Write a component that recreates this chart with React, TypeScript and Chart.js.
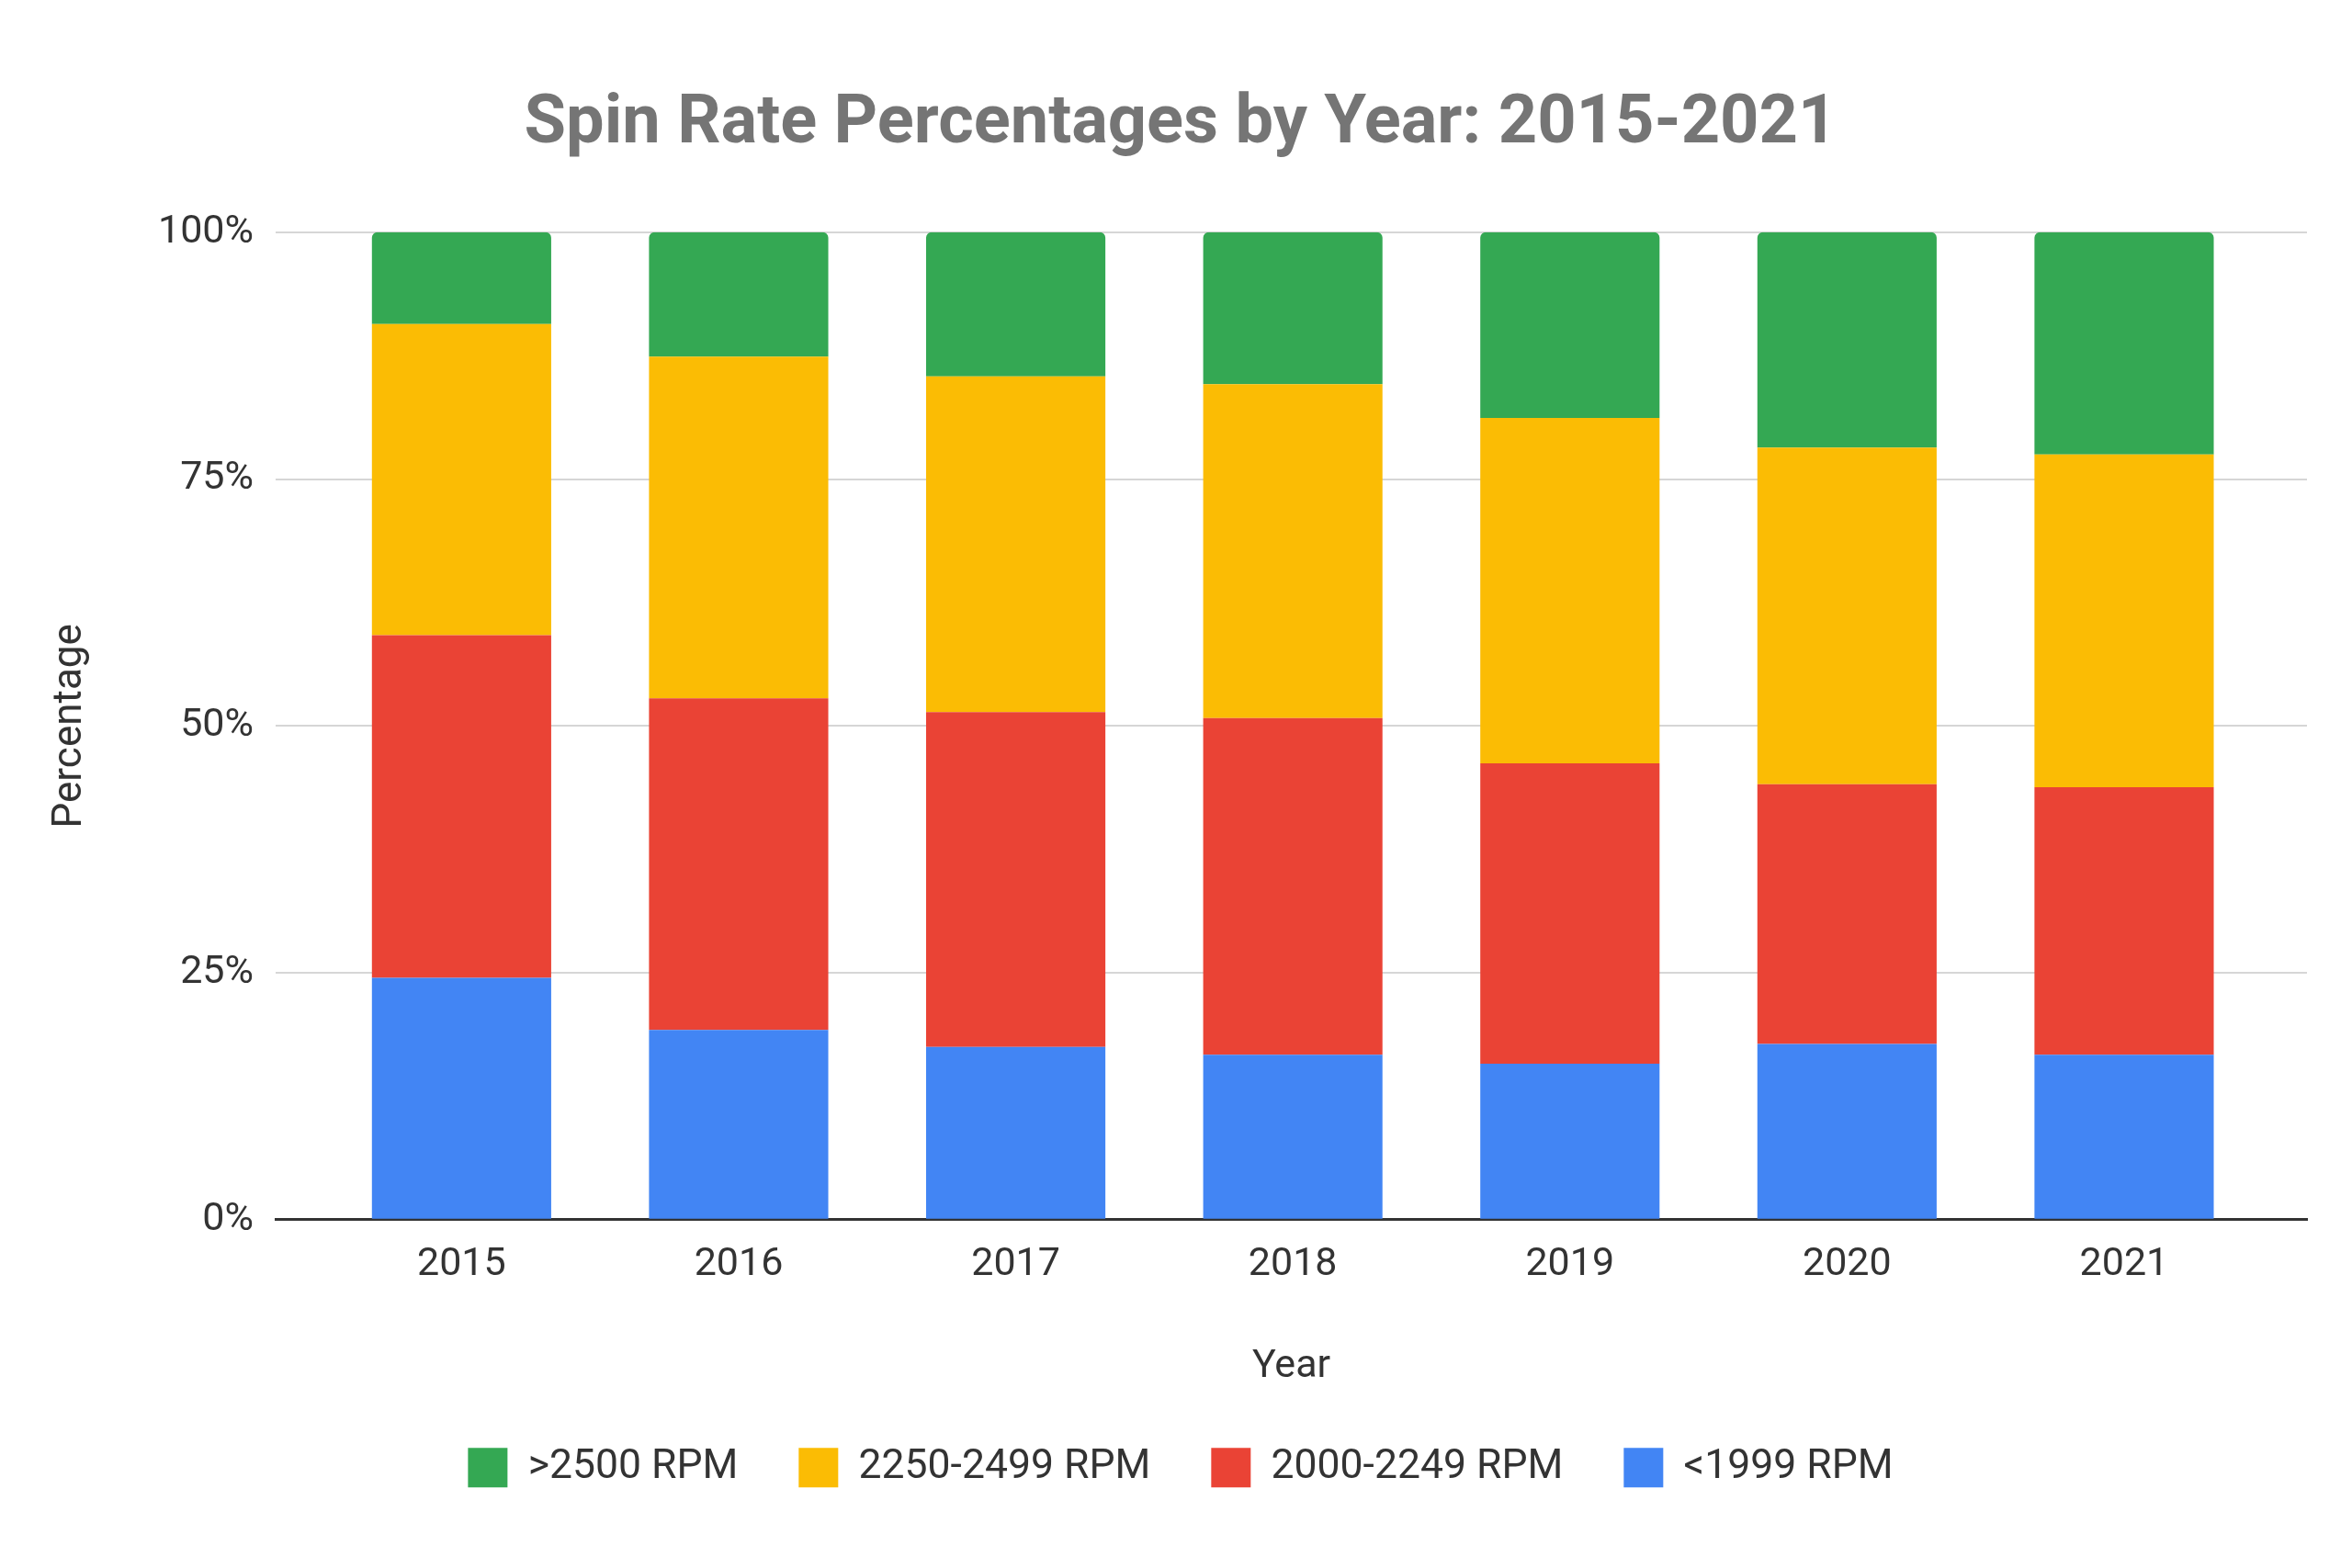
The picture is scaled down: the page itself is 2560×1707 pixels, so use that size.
import { useEffect, useRef } from 'react';
import { Chart, registerables } from 'chart.js';

Chart.register(...registerables);

const years = ['2015', '2016', '2017', '2018', '2019', '2020', '2021'];

// stacked bottom -> top
const below1999 = [24.5, 19.2, 17.5, 16.7, 15.8, 17.8, 16.7];
const rpm2000to2249 = [34.7, 33.6, 33.9, 34.1, 30.4, 26.3, 27.1];
const rpm2250to2499 = [31.5, 34.6, 34.0, 33.8, 35.0, 34.1, 33.7];
const above2500 = [9.3, 12.6, 14.6, 15.4, 18.8, 21.8, 22.5];

const yTicks = [0, 25, 50, 75, 100];

const FONT = 'Roboto, Arial, sans-serif';

export default function App() {
  const canvasRef = useRef<HTMLCanvasElement>(null);
  const chartRef = useRef<Chart | null>(null);

  useEffect(() => {
    if (!canvasRef.current) return;
    document.body.style.margin = '0';

    if (chartRef.current) chartRef.current.destroy();

    chartRef.current = new Chart(canvasRef.current, {
      type: 'bar',
      data: {
        labels: years,
        datasets: [
          { label: '<1999 RPM', data: below1999, backgroundColor: '#4285F4' },
          { label: '2000-2249 RPM', data: rpm2000to2249, backgroundColor: '#EA4335' },
          { label: '2250-2499 RPM', data: rpm2250to2499, backgroundColor: '#FBBC04' },
          {
            label: '>2500 RPM',
            data: above2500,
            backgroundColor: '#34A853',
            borderRadius: { topLeft: 6, topRight: 6, bottomLeft: 0, bottomRight: 0 },
          },
        ],
      },
      options: {
        animation: false,
        responsive: true,
        maintainAspectRatio: false,
        devicePixelRatio: 1,
        layout: { padding: { left: 59, right: 49, top: 0, bottom: 77 } },
        datasets: {
          bar: { categoryPercentage: 1, barPercentage: 0.647, borderSkipped: 'start' },
        },
        plugins: {
          title: {
            display: true,
            text: 'Spin Rate Percentages by Year: 2015-2021',
            color: '#757575',
            font: { family: FONT, size: 74, weight: 'bold' },
            padding: { top: 92, bottom: 72 },
          },
          legend: {
            position: 'bottom',
            reverse: true,
            labels: {
              color: '#333',
              font: { family: FONT, size: 44.5 },
              boxWidth: 43,
              boxHeight: 43,
              padding: 66,
            },
          },
          tooltip: { enabled: false },
        },
        scales: {
          x: {
            type: 'linear',
            stacked: true,
            offset: false,
            min: 2014.329,
            max: 2021.66,
            z: 1,
            grid: { display: false, drawTicks: false },
            border: { display: true, color: '#333', width: 3 },
            ticks: {
              stepSize: 1,
              includeBounds: false,
              padding: 24,
              color: '#333',
              font: { family: FONT, size: 43 },
              callback: (v: any) => String(v),
            },
            title: {
              display: true,
              text: 'Year',
              color: '#333',
              font: { family: FONT, size: 43, lineHeight: 1 },
              padding: { top: 0, bottom: 0 },
            },
            afterFit: (scale: any) => {
              scale.height = 181.75;
            },
          },
          y: {
            stacked: true,
            min: 0,
            max: 100,
            afterBuildTicks: (scale: any) => {
              scale.ticks = yTicks.map((v) => ({ value: v }));
            },
            grid: { color: '#d6d6d6', lineWidth: 2, drawTicks: false },
            border: { display: false },
            ticks: {
              padding: 24,
              color: '#333',
              font: { family: FONT, size: 43 },
              callback: (v: any) => v + '%',
            },
            title: {
              display: true,
              text: 'Percentage',
              color: '#333',
              font: { family: FONT, size: 44, lineHeight: 0.6 },
              padding: { top: 5, bottom: 0 },
            },
            afterFit: (scale: any) => {
              scale.width = 241;
            },
          },
        },
      },
    });

    return () => {
      if (chartRef.current) {
        chartRef.current.destroy();
        chartRef.current = null;
      }
    };
  }, []);

  return (
    <div style={{ position: 'fixed', left: 0, top: 0, width: '100vw', height: '100vh', background: '#fff' }}>
      <canvas ref={canvasRef} />
    </div>
  );
}
